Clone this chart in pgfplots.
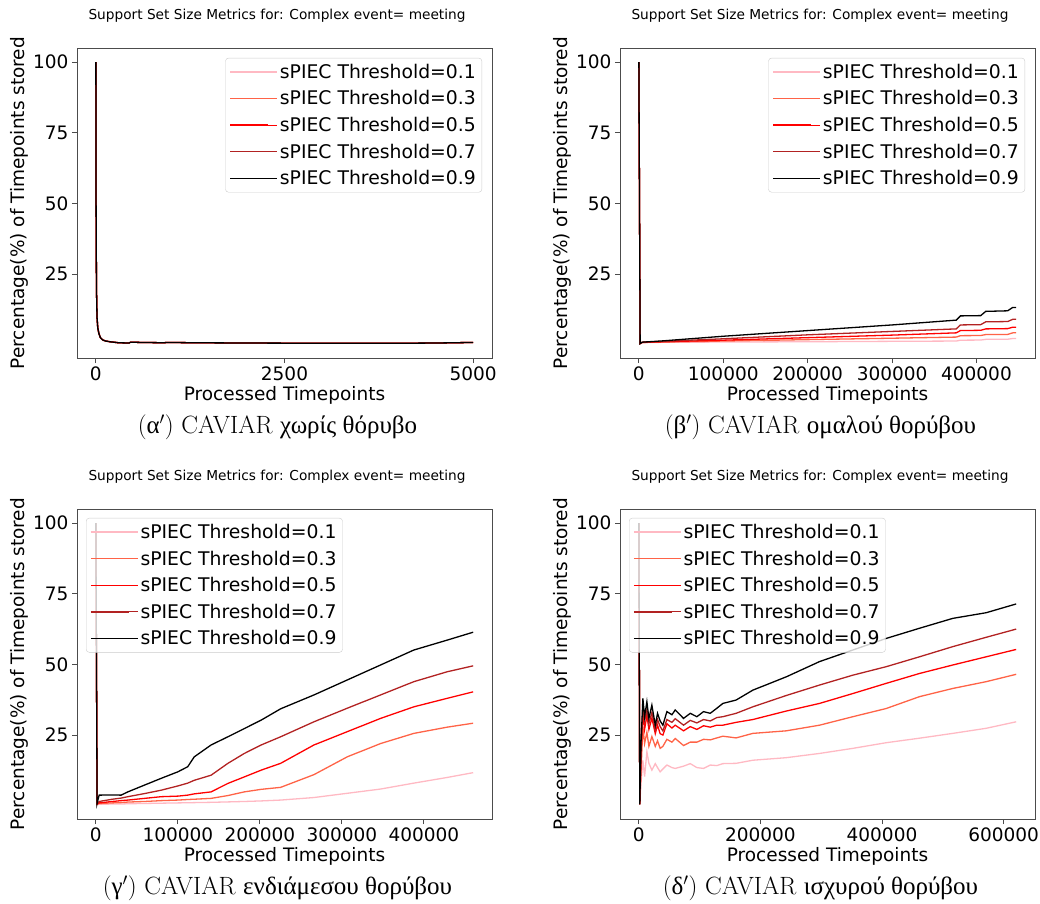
\documentclass[border=0pt]{standalone}
\usepackage{fontspec}
\setsansfont{DejaVu Sans}
\newfontfamily\greekfont{Liberation Serif}
\usepackage{pgfplots}
\usepackage{pgfplotstable}
\pgfplotsset{compat=1.18}

\definecolor{cA}{RGB}{255,185,195}
\definecolor{cB}{RGB}{255,99,71}
\definecolor{cC}{RGB}{255,0,0}
\definecolor{cD}{RGB}{178,34,34}
\definecolor{cE}{RGB}{0,0,0}

% Panel (a): all thresholds coincide
\pgfplotstableread{
x y
0 100
3 50
8 20
15 10
25 6
40 4
60 2.5
90 1.7
130 1.3
200 1.0
300 0.7
440 0.6
460 0.9
600 0.8
900 0.7
950 0.8
1300 0.7
2000 0.6
3000 0.5
4000 0.5
4500 0.6
5000 0.8
}\tabA

\pgfplotstableread{
x p1 p3 p5 p7 p9
0 100 100 100 100 100
1500 0.4 0.4 0.4 0.4 0.4
4000 0.8 0.8 0.8 0.9 0.9
30000 0.85 0.95 1.05 1.2 1.4
100000 0.95 1.3 1.6 2.1 3.0
200000 1.05 1.8 2.5 3.5 5.0
300000 1.2 2.3 3.4 4.7 7.0
376000 1.3 2.7 4.2 5.6 8.7
381000 1.6 3.2 5.0 7.0 10.2
405000 1.65 3.25 5.1 7.1 10.3
411000 1.9 3.6 5.6 8.1 11.8
437000 1.95 3.65 5.7 8.2 12.0
443000 2.2 4.2 6.2 9.0 13.2
447000 2.2 4.2 6.2 9.0 13.2
}\tabB

\pgfplotstableread{
x p1 p3 p5 p7 p9
0 100 100 100 100 100
1500 0.4 0.5 0.6 0.7 0.8
4000 0.5 0.8 1.0 1.5 3.75
20000 0.6 1.0 1.5 2.3 3.8
30800 0.6 1.1 1.8 2.7 3.75
39000 0.7 1.3 2.0 3.2 4.9
59300 0.8 1.5 2.6 4.3 7.3
79700 0.9 1.8 3.2 5.5 9.7
100000 1.0 2.0 3.4 7.0 12.0
112000 1.05 2.2 3.75 8.0 13.8
120000 1.1 2.3 4.2 9.0 17.3
140500 1.2 2.6 4.9 10.8 21.5
161000 1.35 3.6 7.9 15.0 24.4
181000 1.5 4.9 10.2 18.5 27.3
201600 1.7 5.8 12.6 21.5 30.3
225300 2.0 6.5 15.0 24.4 34.3
265900 2.9 11.0 21.5 29.7 39.2
306500 4.4 17.3 26.2 34.5 44.5
347100 5.9 22.0 30.9 39.2 49.8
387700 8.0 25.6 35.0 43.9 55.1
428300 10.0 27.8 38.0 47.4 58.6
460000 11.7 29.2 40.3 49.5 61.4
}\tabC

\pgfplotstableread{
x p1 p3 p5 p7 p9
0 100 100 100 100 100
1500 0.5 0.5 0.5 0.5 0.5
3500 8 12 18 19 22
6600 16 28 33 35 38.0
9400 10.3 22 27 30 31.5
13200 19.1 26 32 34 36.8
16500 15 21 27 29 30.9
21400 12.6 24.5 31 33 35.6
27000 14.9 21 25.5 27 28.5
30700 13.5 23 28.5 30.5 32.7
35000 12.0 20.3 25.5 28 30.0
39500 13.0 21 25.0 26.5 28.5
46100 14.4 23.5 29.0 30.5 33.3
54400 13.5 22.5 27.5 29.5 32.2
59800 13.2 23.8 28.5 30.8 33.9
73500 14.0 21.3 26.5 28.5 30.9
84500 14.9 22.5 28.0 30.2 32.7
95400 13.5 22.5 27.0 29.3 31.5
106400 13.2 23.5 28.3 30.5 33.3
117400 14.4 23.3 27.8 30.0 32.7
128300 14.2 24.0 28.5 31.2 34.5
138200 14.9 24.6 28.5 31.5 36.2
160000 15.0 24.0 29.5 32.7 37.4
187500 16.1 25.6 30.5 35.0 40.9
242400 17.0 26.5 33.5 39.0 45.6
297200 18.5 28.5 36.2 42.7 51.0
352000 20.3 31.5 39.7 46.2 55.1
406900 22.3 34.4 43.3 49.2 59.2
461700 23.9 38.6 46.8 52.7 62.8
516500 25.6 41.5 49.8 56.3 66.3
571400 27.4 43.9 52.7 59.6 68.3
620700 29.7 46.5 55.3 62.5 71.4
}\tabD

\tikzset{capt/.style={anchor=base, font=\fontsize{25}{30}\selectfont},
  ln/.style={line width=1.3pt}}

\pgfplotsset{
  panel/.style={
    scale only axis, width=415pt, height=310pt,
    clip mode=individual,
    ymin=-4.7, ymax=105, ytick={25,50,75,100},
    tick pos=left, tick align=outside, major tick length=5pt,
    axis line style={black!70, line width=0.9pt},
    tick style={black!70, line width=0.9pt},
    tick label style={font=\sffamily\fontsize{18.5}{22}\selectfont},
    /pgf/number format/assume math mode=true,
    /pgf/number format/fixed,
    /pgf/number format/precision=0,
    /pgf/number format/1000 sep={},
    scaled x ticks=false, scaled y ticks=false,
    xlabel={Processed Timepoints},
    ylabel={Percentage(\%) of Timepoints stored},
    label style={font=\sffamily\fontsize{18.5}{22}\selectfont},
    xlabel style={at={(axis description cs:0.5,-0.1355)}, anchor=base},
    ylabel style={at={(axis description cs:-0.1265,0.5)}, anchor=base},
    title={Support Set Size Metrics for: Complex event= meeting},
    every axis title shift=0pt,
    title style={at={(axis description cs:0.482,1.092)}, anchor=base, font=\sffamily\fontsize{13.7}{16}\selectfont},
    legend cell align=left,
    legend image code/.code={\draw[##1, line width=1.4pt] (0pt,0pt) -- (38pt,0pt); \path (38pt,0pt) -- (47pt,0pt);},
    legend style={draw=black!20, rounded corners=3pt, fill=white, fill opacity=0.8, text opacity=1, draw opacity=1,
      font=\sffamily\fontsize{18.8}{22}\selectfont, inner xsep=4pt, inner ysep=4pt, nodes={inner sep=2pt}, row sep=6.8pt},
  },
}

\begin{document}
\begin{tikzpicture}
\path[use as bounding box] (0pt,0pt) rectangle (1040pt,903pt);

% (a)
\begin{axis}[panel, at={(77pt,545pt)}, anchor=south west,
  xmin=-250, xmax=5250, xtick={0,2500,5000},
  legend style={at={(axis description cs:0.976,0.968)}, anchor=north east}]
\addplot[cA, ln] table[x=x,y=y] {\tabA}; \addlegendentry{sPIEC Threshold=0.1}
\addplot[cB, ln] table[x=x,y=y] {\tabA}; \addlegendentry{sPIEC Threshold=0.3}
\addplot[cC, ln] table[x=x,y=y] {\tabA}; \addlegendentry{sPIEC Threshold=0.5}
\addplot[cD, ln] table[x=x,y=y] {\tabA}; \addlegendentry{sPIEC Threshold=0.7}
\addplot[cE, ln] table[x=x,y=y] {\tabA}; \addlegendentry{sPIEC Threshold=0.9}
\node[capt] at (axis description cs:0.483,-0.243) {({\greekfont α}$'$) CAVIAR {\greekfont χωρίς θόρυβο}};
\end{axis}

% (b)
\begin{axis}[panel, at={(620pt,545pt)}, anchor=south west,
  xmin=-22350, xmax=469350, xtick={0,100000,200000,300000,400000},
  legend style={at={(axis description cs:0.976,0.968)}, anchor=north east}]
\addplot[cA, ln] table[x=x,y=p1] {\tabB}; \addlegendentry{sPIEC Threshold=0.1}
\addplot[cB, ln] table[x=x,y=p3] {\tabB}; \addlegendentry{sPIEC Threshold=0.3}
\addplot[cC, ln] table[x=x,y=p5] {\tabB}; \addlegendentry{sPIEC Threshold=0.5}
\addplot[cD, ln] table[x=x,y=p7] {\tabB}; \addlegendentry{sPIEC Threshold=0.7}
\addplot[cE, ln] table[x=x,y=p9] {\tabB}; \addlegendentry{sPIEC Threshold=0.9}
\node[capt] at (axis description cs:0.483,-0.243) {({\greekfont β}$'$) CAVIAR {\greekfont ομαλού θορύβου}};
\end{axis}

% (c)
\begin{axis}[panel, at={(77pt,84pt)}, anchor=south west,
  xmin=-23000, xmax=483000, xtick={0,100000,200000,300000,400000},
  legend style={at={(axis description cs:0.0217,0.971)}, anchor=north west}]
\addplot[cA, ln] table[x=x,y=p1] {\tabC}; \addlegendentry{sPIEC Threshold=0.1}
\addplot[cB, ln] table[x=x,y=p3] {\tabC}; \addlegendentry{sPIEC Threshold=0.3}
\addplot[cC, ln] table[x=x,y=p5] {\tabC}; \addlegendentry{sPIEC Threshold=0.5}
\addplot[cD, ln] table[x=x,y=p7] {\tabC}; \addlegendentry{sPIEC Threshold=0.7}
\addplot[cE, ln] table[x=x,y=p9] {\tabC}; \addlegendentry{sPIEC Threshold=0.9}
\node[capt] at (axis description cs:0.483,-0.243) {({\greekfont γ}$'$) CAVIAR {\greekfont ενδιάμεσου θορύβου}};
\end{axis}

% (d)
\begin{axis}[panel, at={(620pt,84pt)}, anchor=south west,
  xmin=-31035, xmax=651735, xtick={0,200000,400000,600000},
  legend style={at={(axis description cs:0.0217,0.971)}, anchor=north west}]
\addplot[cA, ln] table[x=x,y=p1] {\tabD}; \addlegendentry{sPIEC Threshold=0.1}
\addplot[cB, ln] table[x=x,y=p3] {\tabD}; \addlegendentry{sPIEC Threshold=0.3}
\addplot[cC, ln] table[x=x,y=p5] {\tabD}; \addlegendentry{sPIEC Threshold=0.5}
\addplot[cD, ln] table[x=x,y=p7] {\tabD}; \addlegendentry{sPIEC Threshold=0.7}
\addplot[cE, ln] table[x=x,y=p9] {\tabD}; \addlegendentry{sPIEC Threshold=0.9}
\node[capt] at (axis description cs:0.483,-0.243) {({\greekfont δ}$'$) CAVIAR {\greekfont ισχυρού θορύβου}};
\end{axis}
\end{tikzpicture}
\end{document}
